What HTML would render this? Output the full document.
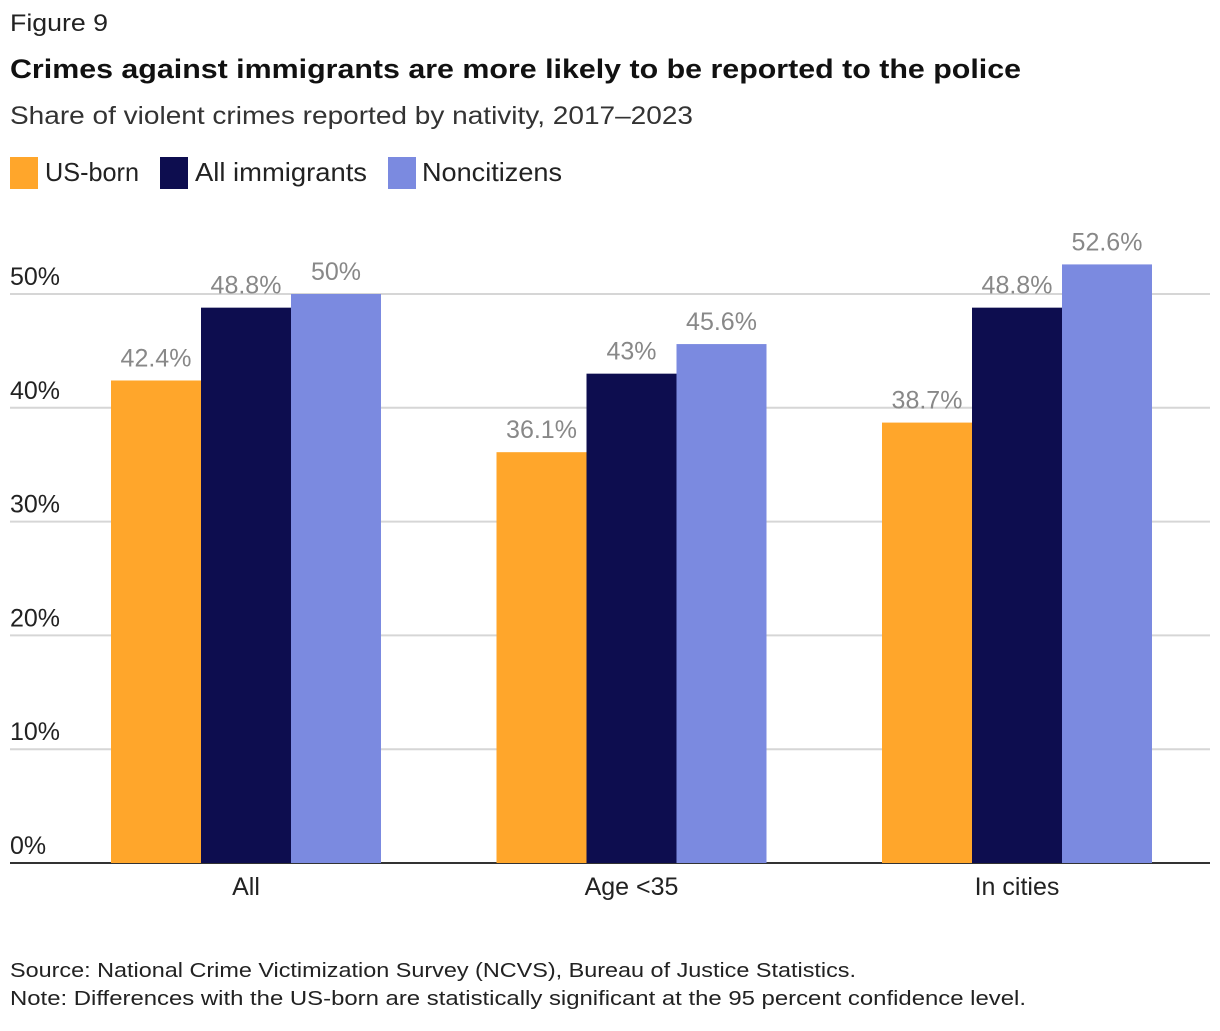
<!DOCTYPE html>
<html><head><meta charset="utf-8"><style>
body{margin:0;background:#fff;width:1220px;height:1026px;overflow:hidden}
text{font-family:"Liberation Sans",sans-serif}
</style></head><body>
<svg id="chart" width="1220" height="1026" xmlns="http://www.w3.org/2000/svg">
<text x="10" y="31" font-size="24" fill="#222" textLength="98" lengthAdjust="spacingAndGlyphs">Figure 9</text>
<text x="10" y="78" font-size="27" font-weight="bold" fill="#111" textLength="1011" lengthAdjust="spacingAndGlyphs">Crimes against immigrants are more likely to be reported to the police</text>
<text x="10" y="124" font-size="25" fill="#333" textLength="683" lengthAdjust="spacingAndGlyphs">Share of violent crimes reported by nativity, 2017–2023</text>
<g>
<rect x="10" y="157" width="28" height="32" fill="#FFA62B"/>
<text x="45" y="181" font-size="26" fill="#222" textLength="94" lengthAdjust="spacingAndGlyphs">US-born</text>
<rect x="160" y="157" width="28" height="32" fill="#0D0D4F"/>
<text x="195" y="181" font-size="26" fill="#222" textLength="172" lengthAdjust="spacingAndGlyphs">All immigrants</text>
<rect x="388" y="157" width="28" height="32" fill="#7B8AE0"/>
<text x="422" y="181" font-size="26" fill="#222" textLength="140" lengthAdjust="spacingAndGlyphs">Noncitizens</text>
</g>
<g id="grid"></g>
<g id="bars"></g>
<text x="10" y="977" font-size="20" fill="#222" textLength="846" lengthAdjust="spacingAndGlyphs">Source: National Crime Victimization Survey (NCVS), Bureau of Justice Statistics.</text>
<text x="10" y="1005" font-size="20" fill="#222" textLength="1016" lengthAdjust="spacingAndGlyphs">Note: Differences with the US-born are statistically significant at the 95 percent confidence level.</text>
</svg>
<script>
const categories = ["All", "Age <35", "In cities"];
const usBorn = [42.4, 36.1, 38.7];
const allImmigrants = [48.8, 43, 48.8];
const noncitizens = [50, 45.6, 52.6];
const yTicks = [0, 10, 20, 30, 40, 50];

const NS = "http://www.w3.org/2000/svg";
const y0 = 863, pxPer = 11.38;
function yScale(v){ return y0 - v * pxPer; }
function groupCenter(i){ return 246 + i * 385.5; }
const barW = 90;
const grid = document.getElementById('grid');
const bars = document.getElementById('bars');
function mk(tag, attrs, parent){ const e = document.createElementNS(NS, tag); for (const k in attrs) e.setAttribute(k, attrs[k]); parent.appendChild(e); return e; }

yTicks.forEach(t => {
  const y = yScale(t);
  const l = mk('line', {x1:10, x2:1210, y1:y, y2:y, stroke: t === 0 ? '#333' : '#d6d6d6', 'stroke-width': 2}, grid);
  
  
  const tx = mk('text', {x:10, y:y - 9, 'font-size':25, fill:'#222'}, grid);
  tx.textContent = t + '%';
  
  
});

const series = [[usBorn, '#FFA62B', 'us-born'], [allImmigrants, '#0D0D4F', 'all-immigrants'], [noncitizens, '#7B8AE0', 'noncitizens']];
categories.forEach((c, i) => {
  const cx = groupCenter(i);
  series.forEach((s, j) => {
    const v = s[0][i];
    const x = cx - 1.5 * barW + j * barW;
    const r = mk('rect', {x:x, y:yScale(v), width:barW, height:y0 - yScale(v), fill:s[1]}, bars);
    
    
    const t = mk('text', {x:x + barW/2, y:yScale(v) - 14, 'font-size':25, fill:'#888', 'text-anchor':'middle'}, bars);
    t.textContent = v + '%';
    
    
  });
  const lbl = mk('text', {x:cx, y:895, 'font-size':25, fill:'#222', 'text-anchor':'middle'}, bars);
  lbl.textContent = c;
  
  
});
</script>
</body></html>
